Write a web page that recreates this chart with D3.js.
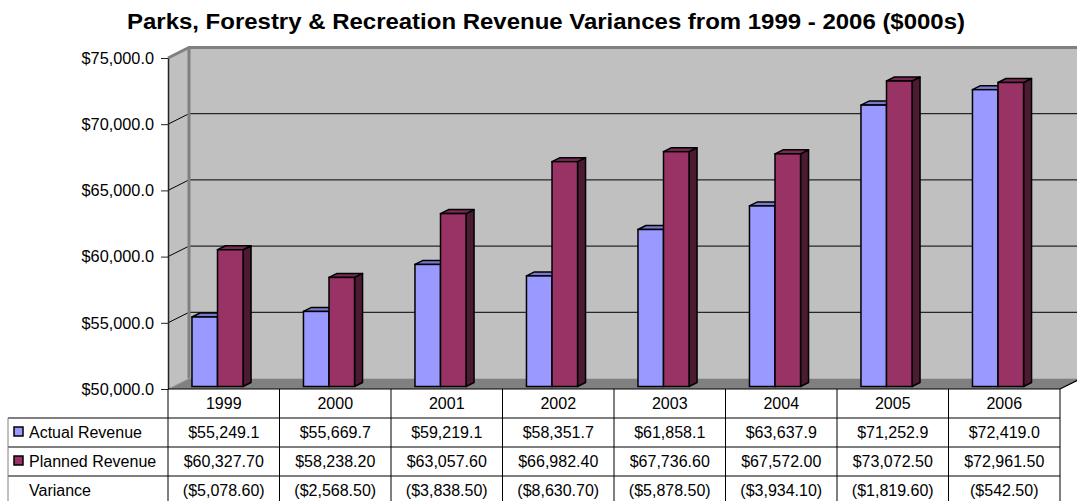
<!DOCTYPE html>
<html>
<head>
<meta charset="utf-8">
<script src="https://cdn.jsdelivr.net/npm/d3@7"></script>
<style>
  html, body { margin: 0; padding: 0; background: #fff; }
  svg { display: block; font-family: "Liberation Sans", Arial, sans-serif; }
</style>
</head>
<body>
<svg id="chart" width="1077" height="501"></svg>
<script>
const title = "Parks, Forestry & Recreation Revenue Variances from 1999 - 2006 ($000s)";
const years = ["1999", "2000", "2001", "2002", "2003", "2004", "2005", "2006"];
const actual = [55249.1, 55669.7, 59219.1, 58351.7, 61858.1, 63637.9, 71252.9, 72419.0];
const planned = [60327.70, 58238.20, 63057.60, 66982.40, 67736.60, 67572.00, 73072.50, 72961.50];
const variance = [-5078.60, -2568.50, -3838.50, -8630.70, -5878.50, -3934.10, -1819.60, -542.50];
const yTicks = [50000, 55000, 60000, 65000, 70000, 75000];
const seriesNames = ["Actual Revenue", "Planned Revenue", "Variance"];

(function () {
const svg = d3.select("#chart");
const W = 1077, H = 501;

// layout
const pL = 168, pR = 1060, pT = 58, floorY = 389;
const depthX = 21, depthY = 10.5;   // wall depth
const barDX = 8, barDY = 4;         // bar depth
const rowH = 29;

const x = d3.scaleBand().domain(years).range([pL, pR]);
const y = d3.scaleLinear().domain([50000, 75000]).range([floorY, pT]);

const colActual = "#9999FF", colActualTop = "#7a7acc", colActualSide = "#4d4d80";
const colPlanned = "#993366", colPlannedTop = "#7a2952", colPlannedSide = "#4c1a33";

// Title
svg.append("text")
  .attr("x", 546).attr("y", 29)
  .attr("text-anchor", "middle")
  .attr("font-weight", "bold")
  .attr("font-size", 22)
  .attr("textLength", 838)
  .attr("lengthAdjust", "spacingAndGlyphs")
  .text(title);

// Back wall
const backRight = W + 10;
svg.append("rect")
  .attr("x", pL + depthX).attr("y", pT - depthY)
  .attr("width", backRight - (pL + depthX))
  .attr("height", floorY - pT)
  .attr("fill", "#c0c0c0");
// side wall
svg.append("polygon")
  .attr("points", [[pL, pT], [pL + depthX, pT - depthY], [pL + depthX, floorY - depthY], [pL, floorY]].join(" "))
  .attr("fill", "#c0c0c0");
// floor
svg.append("polygon")
  .attr("points", [[pL, floorY], [pL + depthX, floorY - depthY], [pR + depthX, floorY - depthY], [pR, floorY]].join(" "))
  .attr("fill", "#808080");
svg.append("line")
  .attr("x1", pR).attr("y1", floorY).attr("x2", pR + depthX).attr("y2", floorY - depthY)
  .attr("stroke", "#000").attr("stroke-width", 1.2);

// gridlines
yTicks.filter(v => v > 50000 && v < 75000).forEach(v => {
  const yy = y(v);
  svg.append("line")
    .attr("x1", pL + depthX).attr("x2", backRight)
    .attr("y1", yy - depthY).attr("y2", yy - depthY)
    .attr("stroke", "#000").attr("stroke-width", 1);
  svg.append("line")
    .attr("x1", pL).attr("x2", pL + depthX)
    .attr("y1", yy).attr("y2", yy - depthY)
    .attr("stroke", "#000").attr("stroke-width", 1);
});

// wall borders
svg.append("path")
  .attr("d", `M${pL},${pT} L${pL + depthX},${pT - depthY} L${backRight},${pT - depthY}`)
  .attr("fill", "none").attr("stroke", "#808080").attr("stroke-width", 3);
svg.append("line")
  .attr("x1", pL + depthX).attr("x2", pL + depthX)
  .attr("y1", pT - depthY).attr("y2", floorY - depthY)
  .attr("stroke", "#808080").attr("stroke-width", 3);
svg.append("line")
  .attr("x1", pL).attr("x2", pL + depthX)
  .attr("y1", floorY).attr("y2", floorY - depthY)
  .attr("stroke", "#a0a0a0").attr("stroke-width", 1);

// bars
const bw = x.bandwidth();
const barOff = bw * 0.215, barW = bw * 0.229;
const shiftY = 2.5;
function bar3d(g, x0, v, front, topC, side) {
  const yt = y(v) - shiftY, yb = floorY - shiftY, x1 = x0 + barW;
  g.append("polygon")
    .attr("points", [[x1, yt], [x1 + barDX, yt - barDY], [x1 + barDX, yb - barDY], [x1, yb]].join(" "))
    .attr("fill", side).attr("stroke", "#000").attr("stroke-width", 1.5).attr("stroke-linejoin", "round");
  g.append("polygon")
    .attr("points", [[x0, yt], [x0 + barDX, yt - barDY], [x1 + barDX, yt - barDY], [x1, yt]].join(" "))
    .attr("fill", topC).attr("stroke", "#000").attr("stroke-width", 1.5).attr("stroke-linejoin", "round");
  g.append("rect")
    .attr("x", x0).attr("y", yt).attr("width", barW).attr("height", yb - yt)
    .attr("fill", front).attr("stroke", "#000").attr("stroke-width", 1.5);
}
const barsG = svg.append("g");
years.forEach((yr, i) => {
  const g = barsG.append("g");
  const xa = x(yr) + barOff;
  bar3d(g, xa, actual[i], colActual, colActualTop, colActualSide);
  bar3d(g, xa + barW, planned[i], colPlanned, colPlannedTop, colPlannedSide);
});

// y axis
const yAxis = d3.axisLeft(y).tickValues(yTicks).tickFormat(d3.format("$,.1f")).tickSize(7).tickSizeOuter(0).tickPadding(7);
const ag = svg.append("g").attr("transform", `translate(${pL},0)`).call(yAxis);
ag.select(".domain").attr("stroke", "#222").attr("stroke-width", 1.5);
ag.selectAll(".tick line").attr("stroke", "#222");
ag.selectAll(".tick text").attr("font-size", 16.3).attr("fill", "#000")
  .attr("font-family", "'Liberation Sans', Arial, sans-serif");

// data table
const tg = svg.append("g");
const tableLeft = 8, tableBottom = floorY + 4 * rowH;
tg.append("line").attr("x1", pL).attr("x2", pR).attr("y1", floorY).attr("y2", floorY).attr("stroke", "#000");
[1, 2, 3].forEach(r => {
  tg.append("line").attr("x1", tableLeft).attr("x2", pR)
    .attr("y1", floorY + r * rowH).attr("y2", floorY + r * rowH).attr("stroke", "#000");
});
years.forEach(yr => {
  tg.append("line").attr("x1", x(yr)).attr("x2", x(yr))
    .attr("y1", floorY).attr("y2", tableBottom).attr("stroke", "#000");
});
tg.append("line").attr("x1", pR).attr("x2", pR).attr("y1", floorY).attr("y2", tableBottom).attr("stroke", "#000");
tg.append("line").attr("x1", tableLeft).attr("x2", tableLeft).attr("y1", floorY + rowH).attr("y2", tableBottom).attr("stroke", "#808080");

const fs = 16;
const fmtA = d3.format("$,.1f"), fmtP = d3.format("$,.2f"), fmtV = d3.format("($,.2f");
const rows = [years, actual.map(fmtA), planned.map(fmtP), variance.map(fmtV)];
rows.forEach((vals, r) => {
  vals.forEach((t, i) => {
    tg.append("text")
      .attr("x", x(years[i]) + bw / 2)
      .attr("y", floorY + r * rowH + rowH / 2 + 5.5)
      .attr("text-anchor", "middle")
      .attr("font-size", fs)
      .text(t);
  });
});
const keyColors = [colActual, colPlanned, null];
seriesNames.forEach((name, k) => {
  const cy = floorY + (k + 1) * rowH + rowH / 2;
  if (keyColors[k]) {
    tg.append("rect").attr("x", 14).attr("y", cy - 5.5).attr("width", 9).attr("height", 9)
      .attr("fill", keyColors[k]).attr("stroke", "#000").attr("stroke-width", 1.5);
  }
  tg.append("text").attr("x", 29).attr("y", cy + 5.5)
    .attr("font-size", fs).text(name);
});
})();
</script>
</body>
</html>
